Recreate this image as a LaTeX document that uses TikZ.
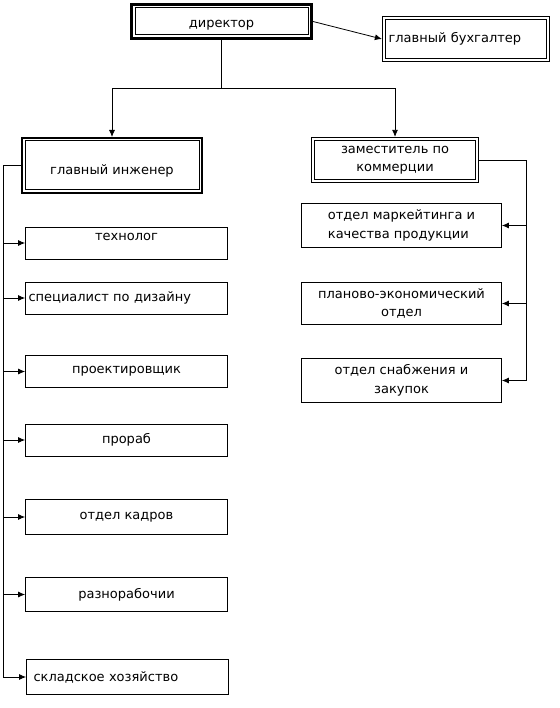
\documentclass[tikz,border=0pt]{standalone}
\usepackage{fontspec}
\setmainfont{DejaVu Sans}
\usetikzlibrary{arrows.meta}

\tikzset{
  box/.style={draw, line width=0.8pt, minimum width=202pt, minimum height=32pt,
    inner sep=3pt, font=\fontsize{13}{18.5}\selectfont},
  dbox/.style={box, line width=#1, path picture={
    \draw[line width=1pt]
      ([shift={({#1/2+2pt},{-#1/2-2pt})}]path picture bounding box.north west) rectangle
      ([shift={({-#1/2-2pt},{#1/2+2pt})}]path picture bounding box.south east);}},
  arr/.style={-{Latex[length=7pt,width=6pt]}, line width=0.8pt},
}

\begin{document}
\begin{tikzpicture}[x=1pt, y=1pt]
	\useasboundingbox (0,0) rectangle (559,-708);
	% top
	\node[dbox=3pt, minimum width=180pt, minimum height=34pt, text height=15pt] (dir) at (221.5,-21.5) {директор};
	\node[dbox=1.2pt, minimum width=167pt, minimum height=45pt, text width=155pt, align=left] (buh) at (466,-39) {главный бухгалтер};
	\node[dbox=2pt, minimum width=180pt, minimum height=55pt, text height=20pt] (eng) at (112,-165.5) {главный инженер};
	\node[dbox=1.2pt, minimum width=167pt, minimum height=45pt, align=center] (com) at (395,-160) {заместитель по\\коммерции};
	% left column
	\node[box, text depth=12pt] (tech) at (126.5,-243) {технолог};
	\node[box, text width=196pt, align=left] (spec) at (126.5,-298) {специалист по дизайну};
	\node[box] (proj) at (126.5,-371.5) {проектировщик};
	\node[box] (prorab) at (126.5,-440) {прораб};
	\node[box, minimum height=35pt] (kadr) at (126.5,-517) {отдел кадров};
	\node[box, minimum height=34pt] (razn) at (126.5,-594.5) {разнорабочии};
	\node[box, minimum height=35pt, text width=188pt, align=left] (sklad) at (127.5,-677) {складское хозяйство};
	% right column
	\node[box, minimum width=200pt, minimum height=44pt, align=left] (mark) at (401.5,-225.5) {отдел маркейтинга и\\качества продукции};
	\node[box, minimum width=200pt, minimum height=42pt, align=center] (plan) at (401.5,-303.5) {планово-экономический\\отдел};
	\node[box, minimum width=200pt, minimum height=44pt, align=center] (snab) at (401.5,-380.5) {отдел снабжения и\\закупок};

	\coordinate (split) at (dir.south |- 0,-88);
	\coordinate (ltop) at (3.5,-165.5);
	\coordinate (rtop) at (526,-160);

	\draw[arr] (dir.east) -- (buh.west);
	\draw[line width=0.8pt] (dir.south) -- (split);
	\draw[arr] (split) -| (eng.north);
	\draw[arr] (split) -| (com.north);

	\draw[arr] (eng.west) -- (ltop) |- (sklad.west);
	\foreach \n in {tech,spec,proj,prorab,kadr,razn}
		\draw[arr] (ltop |- \n.west) -- (\n.west);

	\draw[arr] (com.east) -- (rtop) |- (snab.east);
	\foreach \n in {mark,plan}
		\draw[arr] (rtop |- \n.east) -- (\n.east);
\end{tikzpicture}
\end{document}
